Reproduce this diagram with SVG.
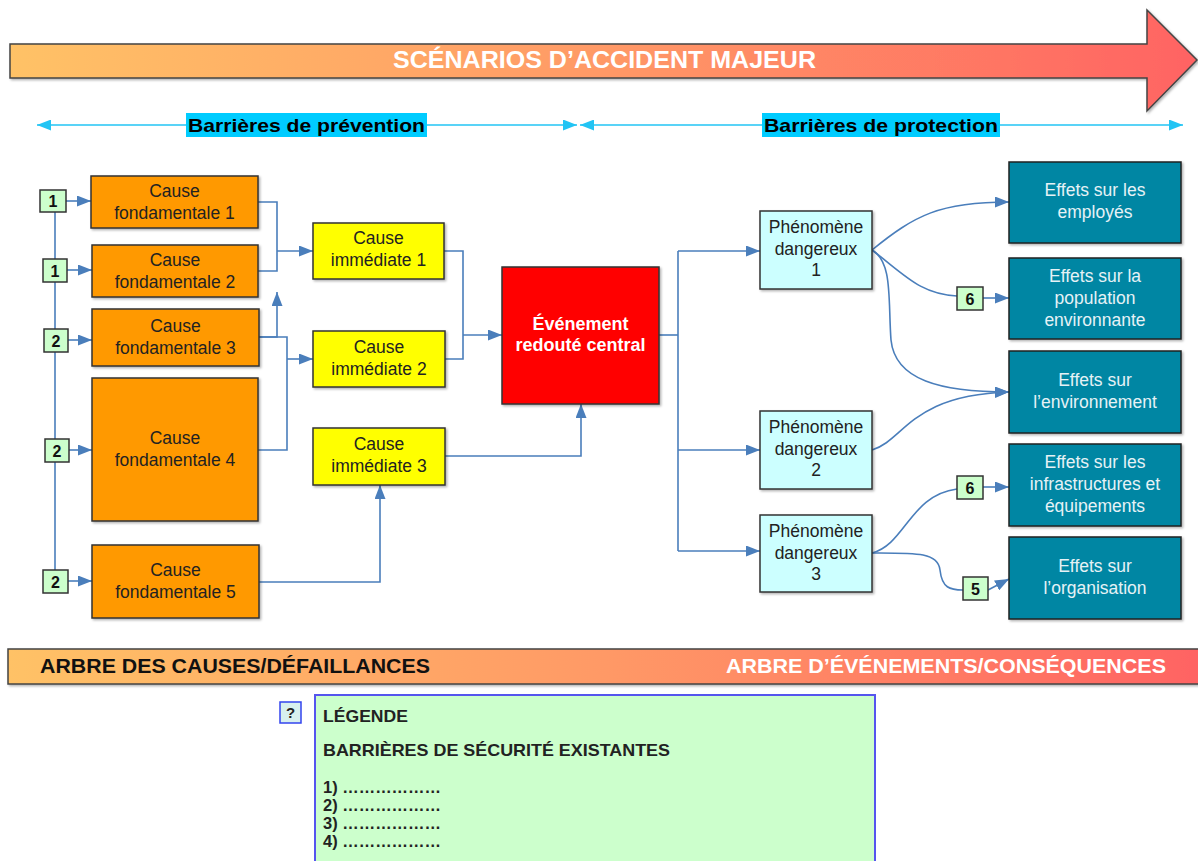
<svg xmlns="http://www.w3.org/2000/svg" width="1198" height="861" viewBox="0 0 1198 861">
  <defs>
    <linearGradient id="bandGrad" x1="0" y1="0" x2="1" y2="0">
      <stop offset="0" stop-color="#ffc266"/>
      <stop offset="0.5" stop-color="#ff9966"/>
      <stop offset="1" stop-color="#ff6363"/>
    </linearGradient>
    <marker id="ah" viewBox="0 0 14 11" refX="14" refY="5.5" markerWidth="14" markerHeight="11" markerUnits="userSpaceOnUse" orient="auto">
      <path d="M0,0 L14,5.5 L0,11 Z" fill="#4a7ebb"/>
    </marker>
    <marker id="ahc" viewBox="0 0 14 11" refX="14" refY="5.5" markerWidth="14" markerHeight="11" markerUnits="userSpaceOnUse" orient="auto-start-reverse">
      <path d="M0,0 L14,5.5 L0,11 Z" fill="#22c4f4"/>
    </marker>
    <filter id="sh" x="-5%" y="-5%" width="115%" height="120%">
      <feDropShadow dx="1.5" dy="1.5" stdDeviation="1" flood-color="#000" flood-opacity="0.3"/>
    </filter>
  </defs>
  <style>
    text { font-family: "Liberation Sans", Arial, sans-serif; }
    .cf { fill: #ff9900; stroke: #333; stroke-width: 1.5; }
    .ci { fill: #ffff00; stroke: #333; stroke-width: 1.5; }
    .pd { fill: #ccffff; stroke: #333; stroke-width: 1.5; }
    .ef { fill: #0086a3; stroke: #222; stroke-width: 1.5; }
    .bd { fill: #ccffcc; stroke: #333; stroke-width: 1.5; }
    .lbl { font-size: 17.5px; fill: #222; text-anchor: middle; }
    .lw { font-size: 17.5px; fill: #e6f2f6; text-anchor: middle; }
    .bt { font-size: 16px; font-weight: bold; fill: #111; text-anchor: middle; }
    .cn { fill: none; stroke: #4a7ebb; stroke-width: 1.6; }
    .cna { fill: none; stroke: #4a7ebb; stroke-width: 1.6; marker-end: url(#ah); }
    .cy { fill: none; stroke: #22c4f4; stroke-width: 1.6; marker-start: url(#ahc); marker-end: url(#ahc); }
    .hd { font-size: 19px; font-weight: bold; fill: #000; }
    .lg { font-size: 17px; font-weight: bold; fill: #222; }
  </style>

  <!-- title arrow -->
  <g id="title">
    <path d="M10,44 L1147,44 L1147,10 L1197,60 L1147,111 L1147,78 L10,78 Z" fill="url(#bandGrad)" stroke="#444" stroke-width="1.5" filter="url(#sh)"/>
    <text x="393" y="68" font-size="23" font-weight="bold" fill="#fff" textLength="423" lengthAdjust="spacingAndGlyphs">SCÉNARIOS D’ACCIDENT MAJEUR</text>
  </g>

  <!-- barrier ranges -->
  <g id="ranges">
    <line class="cy" x1="37" y1="125" x2="577" y2="125"/>
    <line class="cy" x1="580" y1="125" x2="1183" y2="125"/>
    <rect x="186" y="113" width="241" height="24" fill="#00ccff"/>
    <text class="hd" x="188" y="132" textLength="237" lengthAdjust="spacingAndGlyphs">Barrières de prévention</text>
    <rect x="762" y="113" width="238" height="24" fill="#00ccff"/>
    <text class="hd" x="764" y="132" textLength="234" lengthAdjust="spacingAndGlyphs">Barrières de protection</text>
  </g>

  <!-- connectors -->
  <g id="connectors">
    <line class="cn" x1="55" y1="201" x2="55" y2="581"/>
    <line class="cna" x1="66" y1="201" x2="91" y2="201"/>
    <line class="cna" x1="67" y1="270" x2="92" y2="270"/>
    <line class="cna" x1="68" y1="340" x2="92" y2="340"/>
    <line class="cna" x1="69" y1="450" x2="92" y2="450"/>
    <line class="cna" x1="68" y1="581" x2="92" y2="581"/>

    <polyline class="cn" points="258,202 277,202 277,271 258,271"/>
    <line class="cna" x1="277" y1="251" x2="313" y2="251"/>
    <polyline class="cna" points="259,337 277,337 277,292"/>
    <polyline class="cn" points="259,337 287,337 287,450 258,450"/>
    <line class="cna" x1="287" y1="359" x2="313" y2="359"/>

    <polyline class="cn" points="444,251 463,251 463,359 445,359"/>
    <line class="cna" x1="463" y1="335" x2="502" y2="335"/>
    <polyline class="cna" points="445,456 581,456 581,404"/>
    <polyline class="cna" points="259,582 380,582 380,485"/>

    <polyline class="cn" points="659,335 678,335"/>
    <line class="cn" x1="678" y1="251" x2="678" y2="551"/>
    <line class="cna" x1="678" y1="251" x2="760" y2="251"/>
    <line class="cna" x1="678" y1="450" x2="760" y2="450"/>
    <line class="cna" x1="678" y1="551" x2="760" y2="551"/>

    <path class="cna" d="M872,250 C915,215 940,202 1009,202"/>
    <path class="cn" d="M872,250 C905,275 920,294 957,296"/>
    <line class="cna" x1="983" y1="298" x2="1009" y2="298"/>
    <path class="cna" d="M872,250 C893,262 888,300 891,340 C895,380 940,392 1009,392"/>
    <path class="cna" d="M872,450 C905,440 910,395 1009,392"/>
    <path class="cn" d="M872,553 C905,545 910,495 957,489"/>
    <line class="cna" x1="983" y1="487" x2="1009" y2="487"/>
    <path class="cn" d="M872,553 C915,553 938,552 940,570 C942,588 950,590 963,590"/>
    <line class="cna" x1="988" y1="590" x2="1009" y2="579"/>
  </g>

  <!-- barrier badges -->
  <g id="badge-1a"><rect class="bd" x="40" y="190" width="26" height="22"/><text class="bt" x="53" y="207">1</text></g>
  <g id="badge-1b"><rect class="bd" x="43" y="259" width="24" height="23"/><text class="bt" x="55" y="276.5">1</text></g>
  <g id="badge-2a"><rect class="bd" x="44" y="329" width="24" height="23"/><text class="bt" x="56" y="346.5">2</text></g>
  <g id="badge-2b"><rect class="bd" x="45" y="439" width="24" height="23"/><text class="bt" x="57" y="456.5">2</text></g>
  <g id="badge-2c"><rect class="bd" x="43" y="570" width="25" height="23"/><text class="bt" x="55.5" y="587.5">2</text></g>
  <g id="badge-6a"><rect class="bd" x="957" y="287" width="26" height="23"/><text class="bt" x="970" y="304.5">6</text></g>
  <g id="badge-6b"><rect class="bd" x="957" y="476" width="26" height="23"/><text class="bt" x="970" y="493.5">6</text></g>
  <g id="badge-5"><rect class="bd" x="963" y="577" width="25" height="23"/><text class="bt" x="975.5" y="594.5">5</text></g>

  <!-- root causes -->
  <g id="cf1"><rect class="cf" x="91" y="176" width="167" height="52" filter="url(#sh)"/><text class="lbl" x="174.5" y="197">Cause</text><text class="lbl" x="174.5" y="219">fondamentale 1</text></g>
  <g id="cf2"><rect class="cf" x="92" y="245" width="166" height="52" filter="url(#sh)"/><text class="lbl" x="175" y="266">Cause</text><text class="lbl" x="175" y="288">fondamentale 2</text></g>
  <g id="cf3"><rect class="cf" x="92" y="309" width="167" height="57" filter="url(#sh)"/><text class="lbl" x="175.5" y="332">Cause</text><text class="lbl" x="175.5" y="354">fondamentale 3</text></g>
  <g id="cf4"><rect class="cf" x="92" y="378" width="166" height="143" filter="url(#sh)"/><text class="lbl" x="175" y="444">Cause</text><text class="lbl" x="175" y="466">fondamentale 4</text></g>
  <g id="cf5"><rect class="cf" x="92" y="545" width="167" height="73" filter="url(#sh)"/><text class="lbl" x="175.5" y="576">Cause</text><text class="lbl" x="175.5" y="598">fondamentale 5</text></g>

  <!-- immediate causes -->
  <g id="ci1"><rect class="ci" x="313" y="223" width="131" height="56" filter="url(#sh)"/><text class="lbl" x="378.5" y="244">Cause</text><text class="lbl" x="378.5" y="266">immédiate 1</text></g>
  <g id="ci2"><rect class="ci" x="313" y="331" width="132" height="56" filter="url(#sh)"/><text class="lbl" x="379" y="353">Cause</text><text class="lbl" x="379" y="375">immédiate 2</text></g>
  <g id="ci3"><rect class="ci" x="313" y="428" width="132" height="57" filter="url(#sh)"/><text class="lbl" x="379" y="450">Cause</text><text class="lbl" x="379" y="472">immédiate 3</text></g>

  <!-- central event -->
  <g id="event"><rect x="502" y="267" width="157" height="137" fill="#ff0000" stroke="#333" stroke-width="1.5" filter="url(#sh)"/>
    <text x="580.5" y="330" font-size="18" font-weight="bold" fill="#fff" text-anchor="middle">Événement</text>
    <text x="580.5" y="351" font-size="18" font-weight="bold" fill="#fff" text-anchor="middle">redouté central</text></g>

  <!-- dangerous phenomena -->
  <g id="pd1"><rect class="pd" x="760" y="211" width="112" height="78" filter="url(#sh)"/><text class="lbl" x="816" y="233">Phénomène</text><text class="lbl" x="816" y="255">dangereux</text><text class="lbl" x="816" y="276">1</text></g>
  <g id="pd2"><rect class="pd" x="760" y="411" width="112" height="78" filter="url(#sh)"/><text class="lbl" x="816" y="433">Phénomène</text><text class="lbl" x="816" y="455">dangereux</text><text class="lbl" x="816" y="476">2</text></g>
  <g id="pd3"><rect class="pd" x="760" y="515" width="112" height="77" filter="url(#sh)"/><text class="lbl" x="816" y="537">Phénomène</text><text class="lbl" x="816" y="559">dangereux</text><text class="lbl" x="816" y="580">3</text></g>

  <!-- effects -->
  <g id="ef1"><rect class="ef" x="1009" y="162" width="172" height="81" filter="url(#sh)"/><text class="lw" x="1095" y="196">Effets sur les</text><text class="lw" x="1095" y="218">employés</text></g>
  <g id="ef2"><rect class="ef" x="1009" y="258" width="172" height="81" filter="url(#sh)"/><text class="lw" x="1095" y="282">Effets sur la</text><text class="lw" x="1095" y="304">population</text><text class="lw" x="1095" y="326">environnante</text></g>
  <g id="ef3"><rect class="ef" x="1009" y="351" width="172" height="82" filter="url(#sh)"/><text class="lw" x="1095" y="386">Effets sur</text><text class="lw" x="1095" y="408">l’environnement</text></g>
  <g id="ef4"><rect class="ef" x="1009" y="444" width="172" height="82" filter="url(#sh)"/><text class="lw" x="1095" y="468">Effets sur les</text><text class="lw" x="1095" y="490">infrastructures et</text><text class="lw" x="1095" y="512">équipements</text></g>
  <g id="ef5"><rect class="ef" x="1009" y="537" width="172" height="82" filter="url(#sh)"/><text class="lw" x="1095" y="572">Effets sur</text><text class="lw" x="1095" y="594">l’organisation</text></g>

  <!-- bottom band -->
  <g id="band">
    <rect x="8" y="649" width="1195" height="35" fill="url(#bandGrad)" stroke="#444" stroke-width="1.5" filter="url(#sh)"/>
    <text x="40" y="673" font-size="20" font-weight="bold" fill="#111" textLength="390" lengthAdjust="spacingAndGlyphs">ARBRE DES CAUSES/DÉFAILLANCES</text>
    <text x="726" y="673" font-size="20" font-weight="bold" fill="#fff" textLength="440" lengthAdjust="spacingAndGlyphs">ARBRE D’ÉVÉNEMENTS/CONSÉQUENCES</text>
  </g>

  <!-- legend -->
  <g id="legend">
    <rect x="280" y="702" width="21" height="21" fill="#d8f0ee" stroke="#3344ee" stroke-width="1.5"/>
    <text x="290.5" y="718" font-size="15" font-weight="bold" fill="#222" text-anchor="middle">?</text>
    <rect x="315" y="695" width="560" height="180" fill="#ccffcc" stroke="#5555ee" stroke-width="2"/>
    <text class="lg" x="323" y="722" textLength="85" lengthAdjust="spacingAndGlyphs">LÉGENDE</text>
    <text class="lg" x="323" y="756" textLength="347" lengthAdjust="spacingAndGlyphs">BARRIÈRES DE SÉCURITÉ EXISTANTES</text>
    <text class="lg" x="323" y="793" textLength="118" lengthAdjust="spacingAndGlyphs">1) ………………</text>
    <text class="lg" x="323" y="811" textLength="118" lengthAdjust="spacingAndGlyphs">2) ………………</text>
    <text class="lg" x="323" y="829" textLength="118" lengthAdjust="spacingAndGlyphs">3) ………………</text>
    <text class="lg" x="323" y="847" textLength="118" lengthAdjust="spacingAndGlyphs">4) ………………</text>
  </g>
</svg>
